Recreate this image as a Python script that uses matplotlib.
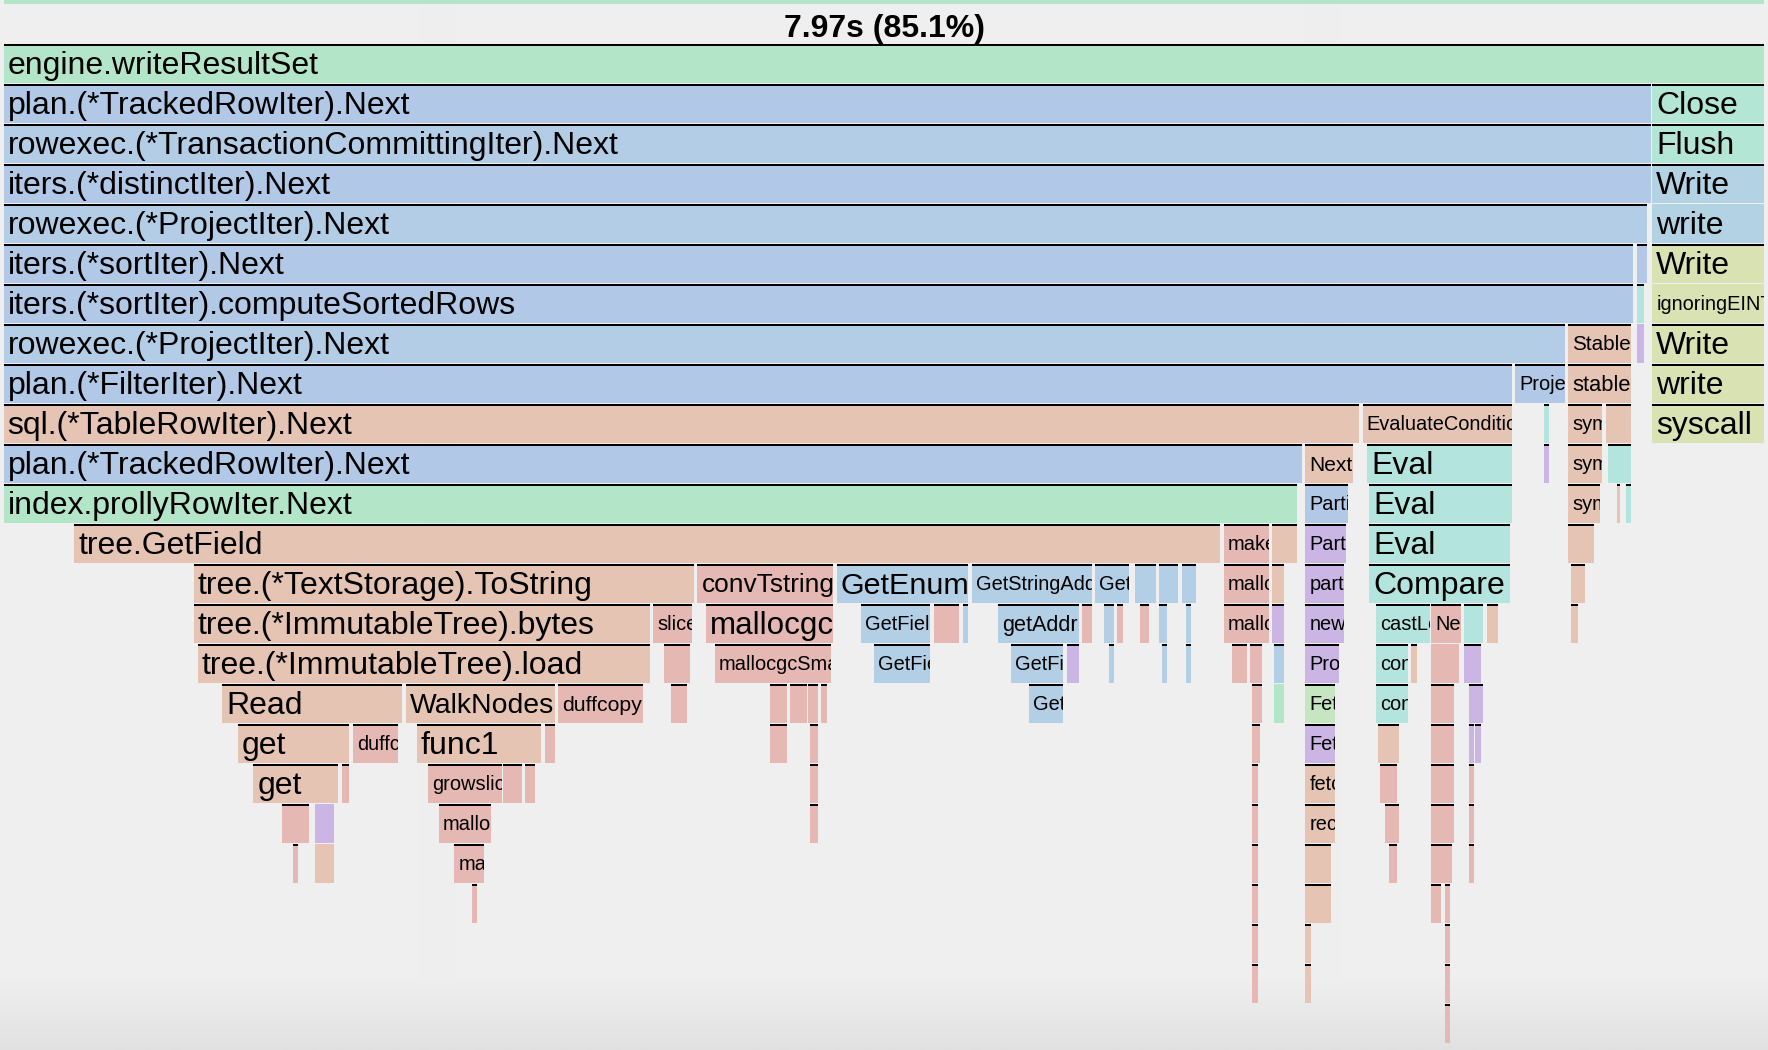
import numpy as np
import matplotlib
matplotlib.use("Agg")
import matplotlib.pyplot as plt
from matplotlib.patches import Rectangle
from matplotlib.textpath import TextPath
from matplotlib.font_manager import FontProperties

# pprof flame graph zoomed into engine.writeResultSet
# 100 Hz profile -> one sample = 10 ms, 797 samples = 7.97 s
TOTAL_SAMPLES = 797
TITLE = "7.97s (85.1%)"

# every row: (first sample, samples, frame name, package, inlined)
ROW_PARENT = [(0, 797, "", "engine", False)]
ROW_00 = [(0, 797, "engine.writeResultSet", "engine", False)]
ROW_01 = [(0, 746, "plan.(*TrackedRowIter).Next", "plan", False),
          (746, 51, "Close", "server", False)]
ROW_02 = [(0, 746, "rowexec.(*TransactionCommittingIter).Next", "rowexec", False),
          (746, 51, "Flush", "server", False)]
ROW_03 = [(0, 746, "iters.(*distinctIter).Next", "iters", False),
          (746, 51, "Write", "net", False)]
ROW_04 = [(0, 744, "rowexec.(*ProjectIter).Next", "rowexec", False),
          (746, 51, "write", "net", True)]
ROW_05 = [(0, 738, "iters.(*sortIter).Next", "iters", False),
          (739, 5, "", "iters", False),
          (746, 51, "Write", "poll", False)]
ROW_06 = [(0, 738, "iters.(*sortIter).computeSortedRows", "iters", False),
          (739, 4, "", "expression", False),
          (746, 51, "ignoringEINTRIO", "poll", True)]
ROW_07 = [(0, 707, "rowexec.(*ProjectIter).Next", "rowexec", False),
          (708, 29, "Stable", "sort", False),
          (739, 4, "", "types", True),
          (746, 51, "Write", "syscall", False)]
ROW_08 = [(0, 683, "plan.(*FilterIter).Next", "plan", False),
          (684, 23, "Project", "plan", False),
          (708, 29, "stable", "sort", False),
          (746, 51, "write", "syscall", False)]
ROW_09 = [(0, 614, "sql.(*TableRowIter).Next", "sql", False),
          (615, 68, "EvaluateCondition", "sql", False),
          (697, 3, "", "expression", False),
          (708, 16, "symMerge", "sort", False),
          (725, 12, "", "sort", False),
          (746, 51, "syscall", "syscall", False)]
ROW_10 = [(0, 588, "plan.(*TrackedRowIter).Next", "plan", False),
          (589, 22, "Next", "sql", False),
          (617, 66, "Eval", "expression", False),
          (697, 3, "", "types", False),
          (708, 16, "symMerge", "sort", False),
          (726, 11, "", "expression", False)]
ROW_11 = [(0, 586, "index.prollyRowIter.Next", "index", False),
          (589, 20, "PartitionIter", "plan", False),
          (618, 65, "Eval", "expression", False),
          (708, 15, "symMerge", "sort", False),
          (730, 2, "", "sort", False),
          (734, 3, "", "expression", False)]
ROW_12 = [(32, 519, "tree.GetField", "tree", False),
          (552, 21, "makeslice", "runtime", False),
          (574, 12, "", "tree", False),
          (589, 19, "Partition", "types", False),
          (618, 64, "Eval", "expression", False),
          (708, 12, "", "sort", False)]
ROW_13 = [(86, 227, "tree.(*TextStorage).ToString", "tree", False),
          (314, 62, "convTstring", "runtime", False),
          (377, 60, "GetEnum", "val", False),
          (438, 55, "GetStringAddr", "val", False),
          (494, 16, "GetField", "val", False),
          (512, 10, "", "val", False),
          (523, 9, "", "val", False),
          (533, 7, "", "val", False),
          (552, 21, "mallocgc", "runtime", False),
          (574, 6, "", "tree", False),
          (589, 18, "partition", "types", False),
          (618, 64, "Compare", "expression", False),
          (709, 7, "", "sort", False)]
ROW_14 = [(86, 207, "tree.(*ImmutableTree).bytes", "tree", False),
          (294, 18, "slicebytetostring", "runtime", False),
          (318, 58, "mallocgc", "runtime", False),
          (388, 32, "GetField", "val", False),
          (421, 12, "", "runtime", False),
          (434, 3, "", "val", False),
          (450, 37, "getAddr", "val", False),
          (488, 5, "", "runtime", False),
          (498, 5, "", "val", False),
          (504, 3, "", "runtime", False),
          (514, 5, "", "runtime", False),
          (523, 4, "", "val", False),
          (535, 3, "", "val", False),
          (552, 21, "mallocgc", "runtime", False),
          (574, 6, "", "types", False),
          (589, 18, "newobject", "types", False),
          (621, 25, "castLeftAndRight", "expression", False),
          (646, 14, "Next", "runtime", False),
          (661, 9, "", "expression", False),
          (671, 6, "", "sql", False),
          (709, 4, "", "sort", False)]
ROW_15 = [(88, 205, "tree.(*ImmutableTree).load", "tree", False),
          (299, 12, "", "runtime", False),
          (322, 53, "mallocgcSmallNoscan", "runtime", False),
          (394, 26, "GetField", "val", False),
          (456, 24, "GetField", "val", False),
          (481, 6, "", "types", False),
          (500, 3, "", "val", False),
          (524, 3, "", "val", False),
          (535, 3, "", "val", False),
          (556, 7, "", "runtime", False),
          (564, 6, "", "runtime", False),
          (575, 5, "", "val", False),
          (589, 16, "Project", "types", False),
          (621, 15, "convert", "expression", False),
          (637, 3, "", "sql", False),
          (646, 13, "", "runtime", True),
          (661, 8, "", "types", False)]
ROW_16 = [(99, 82, "Read", "tree", False),
          (182, 68, "WalkNodes", "tree", False),
          (251, 39, "duffcopy", "runtime", False),
          (302, 8, "", "runtime", False),
          (347, 8, "", "runtime", False),
          (356, 8, "", "runtime", False),
          (364, 5, "", "runtime", False),
          (370, 3, "", "runtime", False),
          (464, 16, "GetField", "val", False),
          (565, 5, "", "runtime", False),
          (575, 5, "", "index", True),
          (589, 14, "Fetch", "nbs", False),
          (621, 15, "convert", "expression", False),
          (646, 11, "", "runtime", False),
          (663, 7, "", "types", False)]
ROW_17 = [(106, 51, "get", "tree", False),
          (158, 21, "duffcopy", "runtime", False),
          (187, 57, "func1", "tree", False),
          (245, 5, "", "runtime", False),
          (347, 8, "", "runtime", False),
          (365, 4, "", "runtime", False),
          (565, 4, "", "runtime", False),
          (589, 14, "Fetch", "types", False),
          (622, 10, "", "sql", False),
          (646, 11, "", "runtime", False),
          (663, 3, "", "types", False),
          (666, 3, "", "types", False)]
ROW_18 = [(113, 39, "get", "tree", False),
          (153, 4, "", "runtime", False),
          (192, 34, "growslice", "runtime", False),
          (226, 9, "", "runtime", False),
          (236, 5, "", "runtime", False),
          (365, 4, "", "runtime", False),
          (565, 3, "", "runtime", False),
          (589, 14, "fetch", "sql", False),
          (623, 8, "", "runtime", False),
          (646, 11, "", "runtime", False),
          (663, 3, "", "runtime", False)]
ROW_19 = [(126, 13, "", "runtime", False),
          (141, 9, "", "types", True),
          (197, 24, "mallocgc", "runtime", False),
          (365, 4, "", "runtime", False),
          (565, 3, "", "runtime", False),
          (589, 14, "recv", "sql", False),
          (625, 7, "", "runtime", False),
          (646, 11, "", "runtime", False),
          (663, 3, "", "runtime", False)]
ROW_20 = [(131, 3, "", "runtime", False),
          (141, 9, "", "sql", True),
          (204, 14, "mallocgc", "runtime", False),
          (565, 3, "", "runtime", False),
          (589, 12, "", "sql", False),
          (627, 4, "", "runtime", False),
          (646, 10, "", "runtime", False),
          (663, 3, "", "runtime", False)]
ROW_21 = [(212, 3, "", "runtime", False),
          (565, 3, "", "runtime", False),
          (589, 12, "", "sql", False),
          (646, 5, "", "runtime", False),
          (652, 3, "", "runtime", False)]
ROW_22 = [(565, 3, "", "runtime", False),
          (589, 3, "", "sql", False),
          (652, 3, "", "runtime", False)]
ROW_23 = [(565, 3, "", "runtime", False),
          (589, 3, "", "sql", False),
          (652, 3, "", "runtime", False)]
ROW_24 = [(652, 3, "", "runtime", False)]

ROWS = [ROW_00, ROW_01, ROW_02, ROW_03, ROW_04, ROW_05, ROW_06, ROW_07,
        ROW_08, ROW_09, ROW_10, ROW_11, ROW_12, ROW_13, ROW_14, ROW_15,
        ROW_16, ROW_17, ROW_18, ROW_19, ROW_20, ROW_21, ROW_22, ROW_23, ROW_24]

PKG_COLOURS = {
    "engine": "#b3e5c9", "index": "#b3e5c9", "server": "#b3e6d4",
    "net": "#b3d2e3", "poll": "#d8e2b2", "syscall": "#d8e2b2",
    "plan": "#b1c8e7", "iters": "#b1c8e7", "rowexec": "#b3cde6",
    "val": "#b3cfe6", "sql": "#e5c4b4", "tree": "#e5c4b4", "sort": "#e5c4b4",
    "runtime": "#e5b8b3", "expression": "#b3e5de", "types": "#cab5e5",
    "nbs": "#c6e6c1",
}

BG = "#efefef"
FONT = "Liberation Sans"
W_PX, H_PX = 1768, 1050
AX_LEFT_PX, AX_W_PX = 3.5, 1761.5
ROW_PX = 40.0
FIRST_ROW_PX = 44.0
PX = AX_W_PX / TOTAL_SAMPLES      # pixels per sample
EM_MAX, EM_MIN = 32.0, 20.0       # label font size in px
MIN_LABEL_PX = 27                 # narrower boxes get no label
fp = FontProperties(family=FONT)


def text_width(s, em):
    return TextPath((0, 0), s, size=em, prop=fp).get_extents().width


fig = plt.figure(figsize=(W_PX / 100, H_PX / 100), dpi=100, facecolor=BG)

# soft shadow at the bottom of the window
bg = fig.add_axes([0, 0, 1, 1], zorder=0)
shade = np.ones((H_PX, 1, 3)) * 239 / 255
ramp = np.linspace(0, 1, 70)
shade[-70:, 0, :] = ((239 - 14 * ramp) / 255)[:, None]
bg.imshow(shade, aspect="auto", extent=[0, 1, 0, 1], interpolation="bilinear")
bg.axis("off")

ax = fig.add_axes([AX_LEFT_PX / W_PX, 0, AX_W_PX / W_PX, 1], zorder=1)
ax.set_xlim(0, TOTAL_SAMPLES)
ax.set_ylim((H_PX - FIRST_ROW_PX) / ROW_PX, -FIRST_ROW_PX / ROW_PX)
ax.axis("off")

gap = 1.3 / PX
fill_h = 38.6 / ROW_PX
line_h = 1.6 / ROW_PX

# parent frame, scrolled almost out of view
for s, w, name, pkg, inl in ROW_PARENT:
    ax.add_patch(Rectangle((s, -2.0), w - gap, 1.0, facecolor=PKG_COLOURS[pkg], lw=0))

for depth, row in enumerate(ROWS):
    for s, w, name, pkg, inl in row:
        rect = Rectangle((s, depth), w - gap, fill_h, facecolor=PKG_COLOURS[pkg], lw=0)
        ax.add_patch(rect)
        if not inl:
            ax.add_patch(Rectangle((s, depth), w - gap, line_h, facecolor="black", lw=0))
        wpx = w * PX - 1.3
        if not name or wpx < MIN_LABEL_PX:
            continue
        avail = wpx - 6
        tw = text_width(name, EM_MAX)
        em = EM_MAX if tw <= avail else max(EM_MIN, EM_MAX * avail / tw)
        y = depth + (19 + 0.358 * em) / ROW_PX
        t = ax.text(s + 4 / PX, y, name, fontsize=em * 0.72, family=FONT,
                    ha="left", va="baseline", color="black", clip_on=True)
        t.set_clip_path(rect)

ax.text(TOTAL_SAMPLES / 2, (37 - FIRST_ROW_PX) / ROW_PX, TITLE, fontsize=23,
        family=FONT, weight="bold", ha="center", va="baseline")

fig.savefig("out.png", dpi=100, facecolor=BG)
